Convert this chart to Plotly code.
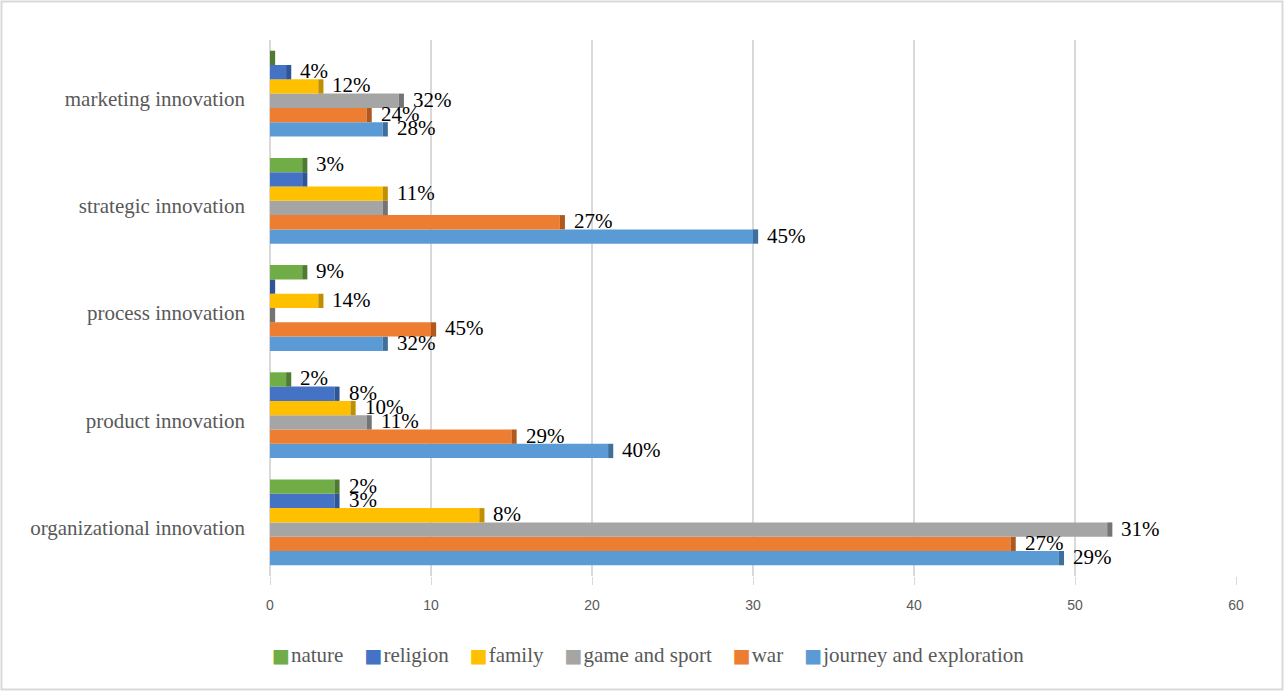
import plotly.graph_objects as go

categories = ["organizational innovation", "product innovation", "process innovation",
              "strategic innovation", "marketing innovation"]

series_names = ["journey and exploration", "war", "game and sport", "family", "religion", "nature"]

journey = [49, 21, 7, 30, 7]
war = [46, 15, 10, 18, 6]
game = [52, 6, 0, 7, 8]
family = [13, 5, 3, 7, 3]
religion = [4, 4, 0, 2, 1]
nature = [4, 1, 2, 2, 0]

journey_lbl = ["29%", "40%", "32%", "45%", "28%"]
war_lbl = ["27%", "29%", "45%", "27%", "24%"]
game_lbl = ["31%", "11%", "", "", "32%"]
family_lbl = ["8%", "10%", "14%", "11%", "12%"]
religion_lbl = ["3%", "8%", "", "", "4%"]
nature_lbl = ["2%", "2%", "9%", "3%", ""]

x_ticks = [0, 10, 20, 30, 40, 50, 60]

colors = ["#5B9BD5", "#ED7D31", "#A5A5A5", "#FFC000", "#4472C4", "#70AD47"]
side_colors = ["#3F6F9C", "#B0591F", "#747474", "#C09000", "#2F5597", "#4E7A31"]

values = [journey, war, game, family, religion, nature]
labels = [journey_lbl, war_lbl, game_lbl, family_lbl, religion_lbl, nature_lbl]

SERIF = "Liberation Serif, Times New Roman, serif"

W, H = 1284, 691
ML, MR, MT, MB = 270, 48, 40, 115
PW, PH = W - ML - MR, H - MT - MB
BARGAP = 0.2
SIDE = 0.32  # depth of the darker "3D" end face, in axis units

fig = go.Figure()
for i, name in enumerate(series_names):
    fig.add_trace(go.Bar(
        y=categories, x=values[i], name=name, orientation="h",
        marker=dict(color=colors[i], line=dict(width=0)),
        offsetgroup=str(i), showlegend=False,
    ))
    fig.add_trace(go.Bar(
        y=categories, x=[SIDE] * len(categories), base=values[i], orientation="h",
        marker=dict(color=side_colors[i], line=dict(width=0)),
        offsetgroup=str(i), showlegend=False, hoverinfo="skip",
    ))

# data labels, placed at each bar's end
thick = (1 - BARGAP) * PH / len(categories) / len(series_names)
annotations = []
for i in range(len(series_names)):
    yshift = (i - (len(series_names) - 1) / 2) * thick + 1
    for j, cat in enumerate(categories):
        if not labels[i][j]:
            continue
        annotations.append(dict(
            x=values[i][j] + SIDE, y=cat, xref="x", yref="y", text=labels[i][j],
            showarrow=False, xanchor="left", yanchor="middle", xshift=7, yshift=yshift,
            font=dict(family=SERIF, size=21, color="#000000"),
        ))

# legend row (drawn as text so that the swatches sit tight against the names)
legend_order = list(reversed(range(len(series_names))))
parts = []
for i in legend_order:
    parts.append(f"<span style='color:{colors[i]};font-size:19px;font-family:DejaVu Sans'>■</span>"
                 f"<span style='font-size:4px'>&nbsp;</span>{series_names[i]}")
legend_text = "&nbsp;&nbsp;&nbsp;&nbsp;".join(parts)
annotations.append(dict(
    x=(648 - ML) / PW, y=-(655 - (MT + PH)) / PH, xref="paper", yref="paper",
    text=legend_text, showarrow=False, xanchor="center", yanchor="middle",
    font=dict(family=SERIF, size=21, color="#595959"),
))

fig.update_layout(
    width=W, height=H,
    margin=dict(l=ML, r=MR, t=MT, b=MB),
    paper_bgcolor="white", plot_bgcolor="white",
    barmode="group", bargap=BARGAP, bargroupgap=0,
    showlegend=False,
    xaxis=dict(range=[0, 60], tickvals=x_ticks, showgrid=True, gridcolor="#D9D9D9", gridwidth=1.5,
               zeroline=True, zerolinecolor="#D9D9D9", zerolinewidth=1.5, showline=False,
               ticks="outside", ticklen=8, tickcolor="#D9D9D9", tickwidth=1, ticklabelstandoff=8,
               tickfont=dict(family="Liberation Sans Narrow, Liberation Sans, sans-serif", size=14,
                             color="#595959")),
    yaxis=dict(categoryorder="array", categoryarray=categories, showgrid=False, zeroline=False,
               showline=False, ticks="", ticklabelstandoff=24, ticklabelshift=5,
               tickfont=dict(family=SERIF, size=21, color="#595959")),
    annotations=annotations,
    shapes=[dict(type="rect", xref="paper", yref="paper",
                 x0=(-ML + 1.5) / PW, x1=1 + (MR - 1.5) / PW,
                 y0=(-MB + 1.5) / PH, y1=1 + (MT - 1.5) / PH,
                 line=dict(color="#D9D9D9", width=2), fillcolor="rgba(0,0,0,0)", layer="below")],
)

fig.write_html("out.html")
